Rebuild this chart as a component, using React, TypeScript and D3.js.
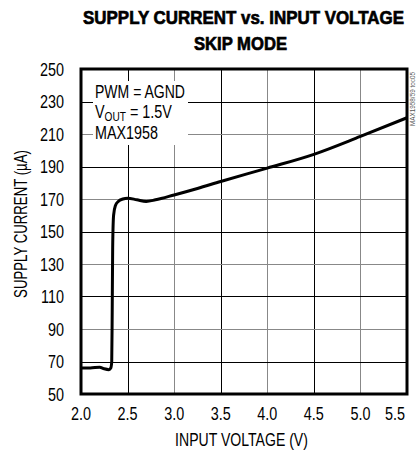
import { useEffect, useRef } from "react";
import * as d3 from "d3";

// supply current (uA) vs input voltage (V)
const vin = [2.0, 2.1, 2.2, 2.25, 2.3, 2.32, 2.33, 2.335, 2.34, 2.35, 2.37, 2.4, 2.45, 2.5, 2.6, 2.7, 2.8, 3.0, 3.25, 3.5, 4.0, 4.5, 5.0, 5.5];
const iq = [66, 66, 66.5, 65.5, 65, 66, 70, 100, 140, 160, 166, 168.5, 170, 170.5, 169.5, 168.5, 169.5, 172.5, 176.5, 180.8, 189, 197.5, 208.5, 220];

const xTicks = [2.0, 2.5, 3.0, 3.5, 4.0, 4.5, 5.0, 5.5];
const yTicks = [50, 70, 90, 110, 130, 150, 170, 190, 210, 230, 250];

const FONT = "'Liberation Sans', Arial, sans-serif";
const NARROW = 0.8;

type Sel = d3.Selection<SVGGElement, unknown, null, undefined>;

// condensed text: squeeze horizontally, either by a fixed factor or to a target width
function label(
  parent: Sel | d3.Selection<SVGSVGElement, unknown, null, undefined>,
  str: string,
  x: number,
  y: number,
  o: { size: number; anchor?: string; width?: number; weight?: string | number; rotate?: number; fill?: string; stroke?: number }
) {
  const g = (parent as any).append("g");
  const t = g.append("text")
    .attr("font-family", FONT)
    .attr("font-size", o.size)
    .attr("font-weight", o.weight || "normal")
    .attr("fill", o.fill || "#000")
    .attr("text-anchor", o.anchor || "start")
    .text(str);
  if (o.stroke) t.attr("stroke", "#000").attr("stroke-width", o.stroke);
  let s = NARROW;
  if (o.width) {
    const w = (t.node() as SVGTextElement).getComputedTextLength();
    if (w > 0) s = o.width / w;
  }
  g.attr("transform", `translate(${x},${y}) rotate(${o.rotate || 0}) scale(${s},1)`);
  return t;
}

const App = () => {
  const svgRef = useRef<SVGSVGElement>(null);

  useEffect(() => {
    if (!svgRef.current) return;
    const svg = d3.select(svgRef.current);
    svg.selectAll("*").remove();

    const left = 81, right = 407, top = 69, bottom = 394;
    const x = d3.scaleLinear().domain([2.0, 5.5]).range([left, right]);
    const y = d3.scaleLinear().domain([50, 250]).range([bottom, top]);

    // title
    label(svg, "SUPPLY CURRENT vs. INPUT VOLTAGE", 243.5, 23.5, { size: 19, weight: 900, anchor: "middle", width: 321, stroke: 0.7 });
    label(svg, "SKIP MODE", 240.5, 50, { size: 19, weight: 900, anchor: "middle", width: 93, stroke: 0.7 });

    // grid
    const grid = svg.append("g");
    xTicks.slice(1, -1).forEach((t, i) => {
      grid.append("line")
        .attr("x1", Math.round(x(t)) + 0.5).attr("x2", Math.round(x(t)) + 0.5)
        .attr("y1", top).attr("y2", bottom)
        .attr("stroke", i % 2 === 0 ? "#000" : "#888").attr("stroke-width", 1);
    });
    yTicks.slice(1, -1).forEach((t, i) => {
      grid.append("line")
        .attr("x1", left).attr("x2", right)
        .attr("y1", Math.round(y(t)) + 0.5).attr("y2", Math.round(y(t)) + 0.5)
        .attr("stroke", i % 2 === 0 ? "#000" : "#888").attr("stroke-width", 1);
    });

    // legend box
    svg.append("rect")
      .attr("x", 93).attr("y", 81).attr("width", 95).attr("height", 64)
      .attr("fill", "#fff");
    const leg = svg.append("g");
    label(leg, "PWM = AGND", 95, 97.5, { size: 18.5, width: 90 });
    const vt = label(leg, "V", 95, 118, { size: 18.5, width: 77 });
    vt.append("tspan").attr("font-size", 13).attr("dy", 3).text("OUT");
    vt.append("tspan").attr("dy", -3).text(" = 1.5V");
    // re-fit after adding the subscript parts
    const vw = (vt.node() as SVGTextElement).getComputedTextLength();
    d3.select((vt.node() as SVGTextElement).parentNode as SVGGElement)
      .attr("transform", `translate(95,118) scale(${77 / vw},1)`);
    label(leg, "MAX1958", 95, 138.5, { size: 18.5, width: 63 });

    // curve
    const pts = vin.map((v, i) => [v, iq[i]] as [number, number]);
    const line = d3.line<[number, number]>()
      .x(d => x(d[0]))
      .y(d => y(d[1]))
      .curve(d3.curveMonotoneX);
    svg.append("path")
      .datum(pts)
      .attr("fill", "none")
      .attr("stroke", "#000")
      .attr("stroke-width", 3)
      .attr("stroke-linejoin", "round")
      .attr("d", line);

    // frame
    svg.append("rect")
      .attr("x", left).attr("y", top)
      .attr("width", right - left).attr("height", bottom - top)
      .attr("fill", "none").attr("stroke", "#000").attr("stroke-width", 3);

    // tick labels
    const yl = svg.append("g");
    yTicks.forEach(t => {
      label(yl, String(t), 64, y(t) + 6.5, { size: 18, anchor: "end" });
    });
    const xl = svg.append("g");
    xTicks.forEach((t, i) => {
      const last = i === xTicks.length - 1;
      label(xl, d3.format(".1f")(t), last ? 405 : x(t), 419.5, { size: 18, anchor: last ? "end" : "middle" });
    });

    // axis titles
    label(svg, "INPUT VOLTAGE (V)", 241.5, 446, { size: 18, anchor: "middle", width: 133 });
    label(svg, "SUPPLY CURRENT (\u00b5A)", 27, 224, { size: 18, anchor: "middle", width: 148, rotate: -90 });

    // figure code, reads bottom to top along the right edge
    label(svg, "MAX1958/59 toc05", 415, 126, { size: 8, rotate: -90, fill: "#555", width: 54 });
  }, []);

  return (
    <svg
      ref={svgRef}
      width={417}
      height={457}
      style={{ position: "absolute", left: 0, top: 0, background: "#fff" }}
    />
  );
};

export default App;
